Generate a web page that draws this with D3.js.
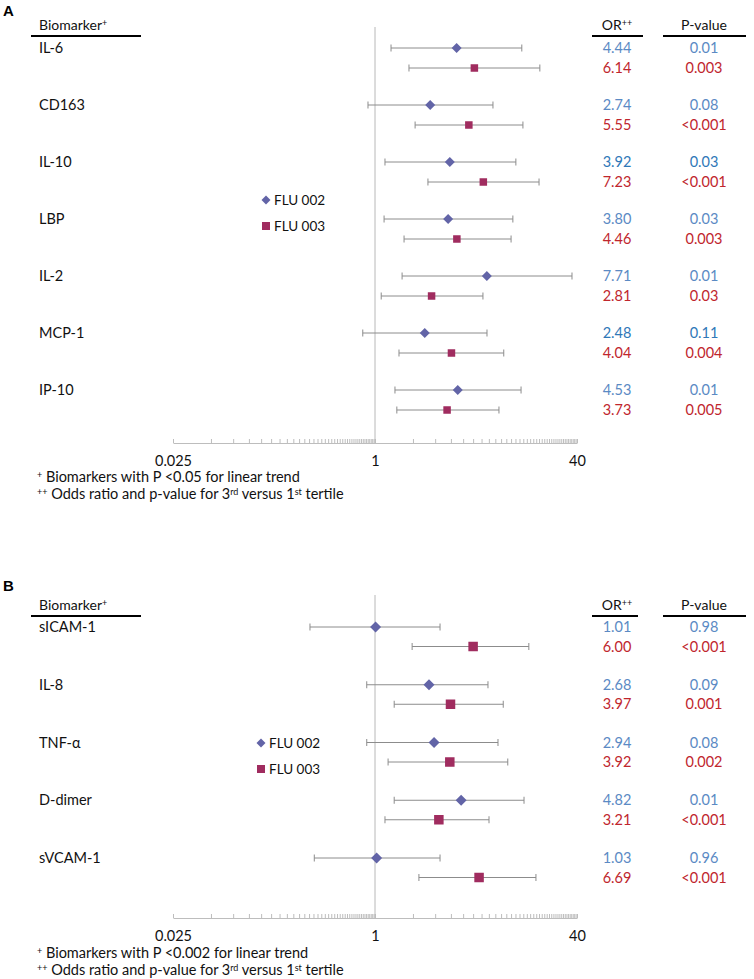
<!DOCTYPE html>
<html>
<head>
<meta charset="utf-8">
<script src="https://cdn.jsdelivr.net/npm/d3@7"></script>
<style>
  html, body { margin: 0; padding: 0; background: #fff; }
  svg text { font-family: Lato, "Open Sans", sans-serif; }
</style>
</head>
<body>
<svg id="chart" width="754" height="979"></svg>
<script>
// ---------- DATA ----------
const tickLabels = ["0.025", "1", "40"];
const tickValues = [0.025, 1, 40];
const seriesNames = ["FLU 002", "FLU 003"];

// Panel A
const biomarkersA = ["IL-6", "CD163", "IL-10", "LBP", "IL-2", "MCP-1", "IP-10"];
const orA_002 = [4.44, 2.74, 3.92, 3.80, 7.71, 2.48, 4.53];
const loA_002 = [1.34, 0.88, 1.20, 1.18, 1.64, 0.80, 1.44];
const hiA_002 = [14.6, 8.62, 13.1, 12.4, 36.5, 7.73, 14.4];
const pA_002 = ["0.01", "0.08", "0.03", "0.03", "0.01", "0.11", "0.01"];
const orA_003 = [6.14, 5.55, 7.23, 4.46, 2.81, 4.04, 3.73];
const loA_003 = [1.86, 2.08, 2.63, 1.70, 1.12, 1.55, 1.49];
const hiA_003 = [20.3, 14.9, 20.0, 12.0, 7.18, 10.5, 9.62];
const pA_003 = ["0.003", "<0.001", "<0.001", "0.003", "0.03", "0.004", "0.005"];
const footA1 = "Biomarkers with P <0.05 for linear trend";

// Panel B
const biomarkersB = ["sICAM-1", "IL-8", "TNF-α", "D-dimer", "sVCAM-1"];
const orB_002 = [1.01, 2.68, 2.94, 4.82, 1.03];
const loB_002 = [0.305, 0.86, 0.86, 1.42, 0.33];
const hiB_002 = [3.28, 7.87, 9.45, 15.2, 3.28];
const pB_002 = ["0.98", "0.09", "0.08", "0.01", "0.96"];
const orB_003 = [6.00, 3.97, 3.92, 3.21, 6.69];
const loB_003 = [1.97, 1.42, 1.27, 1.20, 2.23];
const hiB_003 = [16.6, 10.4, 11.3, 8.02, 18.9];
const pB_003 = ["<0.001", "0.001", "0.002", "<0.001", "<0.001"];
const footB1 = "Biomarkers with P <0.002 for linear trend";

// ---------- STYLE ----------
const C002 = "#6264a7";
const C003 = "#a02c5f";
const TXT002 = "#5b8ac4";
const TXT002dark = "#2f78b8";
const TXT003 = "#c0262d";
const BAR = "#8c8c8c";
const darkRows = new Set(["IL-10", "MCP-1"]);

const svg = d3.select("#chart");
const x = d3.scaleLog().domain([0.025, 40]).range([173, 577]);

// minor ticks: linear steps inside each major interval (Excel log base 40)
const minorTicks = [];
for (let k = 2; k < 40; k++) { minorTicks.push(0.025 * k); minorTicks.push(k); }

function diamond(s) { return `M0,${-s}L${s},0L0,${s}L${-s},0Z`; }

function drawPanel(cfg) {
  const g = svg.append("g");
  // panel letter
  g.append("text").attr("x", 3).attr("y", cfg.letterY)
    .style("font-family", "Liberation Sans, Arial, sans-serif")
    .style("font-weight", "bold").style("font-size", "15px").text(cfg.letter);

  // headers
  const hdr = g.append("text").attr("x", 39).attr("y", cfg.headerY)
    .style("font-size", "14px").attr("fill", "#111");
  hdr.append("tspan").text("Biomarker");
  hdr.append("tspan").attr("baseline-shift", "45%").style("font-size", "9px").text("+");
  g.append("line").attr("x1", 31).attr("x2", 141).attr("y1", cfg.lineY).attr("y2", cfg.lineY)
    .attr("stroke", "#000").attr("stroke-width", 2);

  const orh = g.append("text").attr("x", 617).attr("y", cfg.headerY).attr("text-anchor", "middle")
    .style("font-size", "14px").attr("fill", "#111");
  orh.append("tspan").text("OR");
  orh.append("tspan").attr("baseline-shift", "45%").style("font-size", "9px").text("++");
  g.append("line").attr("x1", 592).attr("x2", cfg.orLineEnd).attr("y1", cfg.lineY).attr("y2", cfg.lineY)
    .attr("stroke", "#000").attr("stroke-width", 2);

  g.append("text").attr("x", 704).attr("y", cfg.headerY).attr("text-anchor", "middle")
    .style("font-size", "14px").attr("fill", "#111").text("P-value");
  g.append("line").attr("x1", 663).attr("x2", 746).attr("y1", cfg.lineY).attr("y2", cfg.lineY)
    .attr("stroke", "#000").attr("stroke-width", 2);

  const n = cfg.names.length;
  const y = d3.scaleLinear().domain([0, n - 1]).range([cfg.firstY, cfg.lastY]);
  const off = cfg.off;

  // reference line at OR = 1
  g.append("line").attr("x1", x(1)).attr("x2", x(1)).attr("y1", cfg.refTop).attr("y2", cfg.axisY)
    .attr("stroke", "#b8b8b8").attr("stroke-width", 1);

  // axis
  const axis = d3.axisBottom(x)
    .tickValues(tickValues.concat(minorTicks))
    .tickSizeInner(-4).tickSizeOuter(0).tickPadding(cfg.tickPad)
    .tickFormat(d => { const i = tickValues.findIndex(t => Math.abs(t - d) < 1e-9); return i >= 0 ? tickLabels[i] : ""; });
  const ax = g.append("g").attr("transform", `translate(0,${cfg.axisY})`).call(axis);
  ax.select(".domain").attr("stroke", "#bdbdbd");
  ax.selectAll(".tick line").attr("stroke", "#bdbdbd");
  ax.selectAll(".tick text").style("font-size", "14.5px").attr("fill", "#111")
    .style("font-family", "Lato, sans-serif");

  // rows
  const series = [
    { or: cfg.or2, lo: cfg.lo2, hi: cfg.hi2, p: cfg.p2, dy: 0, color: C002, shape: "d", txt: TXT002 },
    { or: cfg.or3, lo: cfg.lo3, hi: cfg.hi3, p: cfg.p3, dy: off, color: C003, shape: "s", txt: TXT003 }
  ];
  cfg.names.forEach((name, i) => {
    g.append("text").attr("x", 39).attr("y", y(i)).attr("dy", "0.35em")
      .style("font-size", "14.5px").attr("fill", "#111").text(name);
  });
  series.forEach(s => {
    const rows = g.append("g");
    cfg.names.forEach((name, i) => {
      const yy = y(i) + s.dy;
      rows.append("line").attr("x1", x(s.lo[i])).attr("x2", x(s.hi[i])).attr("y1", yy).attr("y2", yy)
        .attr("stroke", BAR).attr("stroke-width", 1);
      [s.lo[i], s.hi[i]].forEach(v => rows.append("line").attr("x1", x(v)).attr("x2", x(v))
        .attr("y1", yy - 3.5).attr("y2", yy + 3.5).attr("stroke", BAR).attr("stroke-width", 1));
      if (s.shape === "d") {
        rows.append("path").attr("d", diamond(cfg.dSize)).attr("transform", `translate(${x(s.or[i])},${yy})`)
          .attr("fill", s.color);
      } else {
        rows.append("rect").attr("x", x(s.or[i]) - cfg.sSize / 2).attr("y", yy - cfg.sSize / 2)
          .attr("width", cfg.sSize).attr("height", cfg.sSize).attr("fill", s.color);
      }
      const col = s.shape === "d" && darkRows.has(name) ? TXT002dark : s.txt;
      rows.append("text").attr("x", 617).attr("y", yy).attr("dy", "0.35em").attr("text-anchor", "middle")
        .style("font-size", "14.5px").attr("fill", col).text(s.or[i].toFixed(2));
      rows.append("text").attr("x", 704).attr("y", yy).attr("dy", "0.35em").attr("text-anchor", "middle")
        .style("font-size", "14.5px").attr("fill", col).text(s.p[i]);
    });
  });

  // legend
  const lg = g.append("g");
  lg.append("path").attr("d", diamond(4.5)).attr("transform", `translate(${cfg.legX},${cfg.legY1})`).attr("fill", C002);
  lg.append("text").attr("x", cfg.legX + 8).attr("y", cfg.legY1).attr("dy", "0.35em")
    .style("font-size", "13.5px").attr("fill", "#111").text(seriesNames[0]);
  lg.append("rect").attr("x", cfg.legX - 4).attr("y", cfg.legY2 - 4).attr("width", 8).attr("height", 8).attr("fill", C003);
  lg.append("text").attr("x", cfg.legX + 8).attr("y", cfg.legY2).attr("dy", "0.35em")
    .style("font-size", "13.5px").attr("fill", "#111").text(seriesNames[1]);

  // footnotes
  const fs = "14.5px";
  const f1 = g.append("text").attr("x", 37).attr("y", cfg.foot1Y + 5)
    .style("font-size", fs).attr("fill", "#111");
  f1.append("tspan").style("font-size", "9px").attr("baseline-shift", "45%").text("+");
  f1.append("tspan").text(" " + cfg.foot1);
  const f2 = g.append("text").attr("x", 37).attr("y", cfg.foot2Y + 5)
    .style("font-size", fs).attr("fill", "#111");
  f2.append("tspan").style("font-size", "9px").attr("baseline-shift", "45%").text("++");
  f2.append("tspan").text(" Odds ratio and p-value for 3");
  f2.append("tspan").style("font-size", "9px").attr("baseline-shift", "45%").text("rd");
  f2.append("tspan").text(" versus 1");
  f2.append("tspan").style("font-size", "9px").attr("baseline-shift", "45%").text("st");
  f2.append("tspan").text(" tertile");
}

drawPanel({
  letter: "A", letterY: 16, headerY: 30, lineY: 36, orLineEnd: 643,
  names: biomarkersA, firstY: 48, lastY: 390, off: 20,
  or2: orA_002, lo2: loA_002, hi2: hiA_002, p2: pA_002,
  or3: orA_003, lo3: loA_003, hi3: hiA_003, p3: pA_003,
  refTop: 27, axisY: 443, tickPad: 13, dSize: 5, sSize: 7.5,
  legX: 266, legY1: 200, legY2: 226,
  foot1: footA1, foot1Y: 477, foot2Y: 494
});

drawPanel({
  letter: "B", letterY: 591, headerY: 610, lineY: 616, orLineEnd: 638,
  names: biomarkersB, firstY: 627, lastY: 858, off: 19.5,
  or2: orB_002, lo2: loB_002, hi2: hiB_002, p2: pB_002,
  or3: orB_003, lo3: loB_003, hi3: hiB_003, p3: pB_003,
  refTop: 595, axisY: 918, tickPad: 13, dSize: 5.5, sSize: 9.5,
  legX: 261, legY1: 743, legY2: 769,
  foot1: footB1, foot1Y: 953, foot2Y: 970
});
</script>
</body>
</html>
